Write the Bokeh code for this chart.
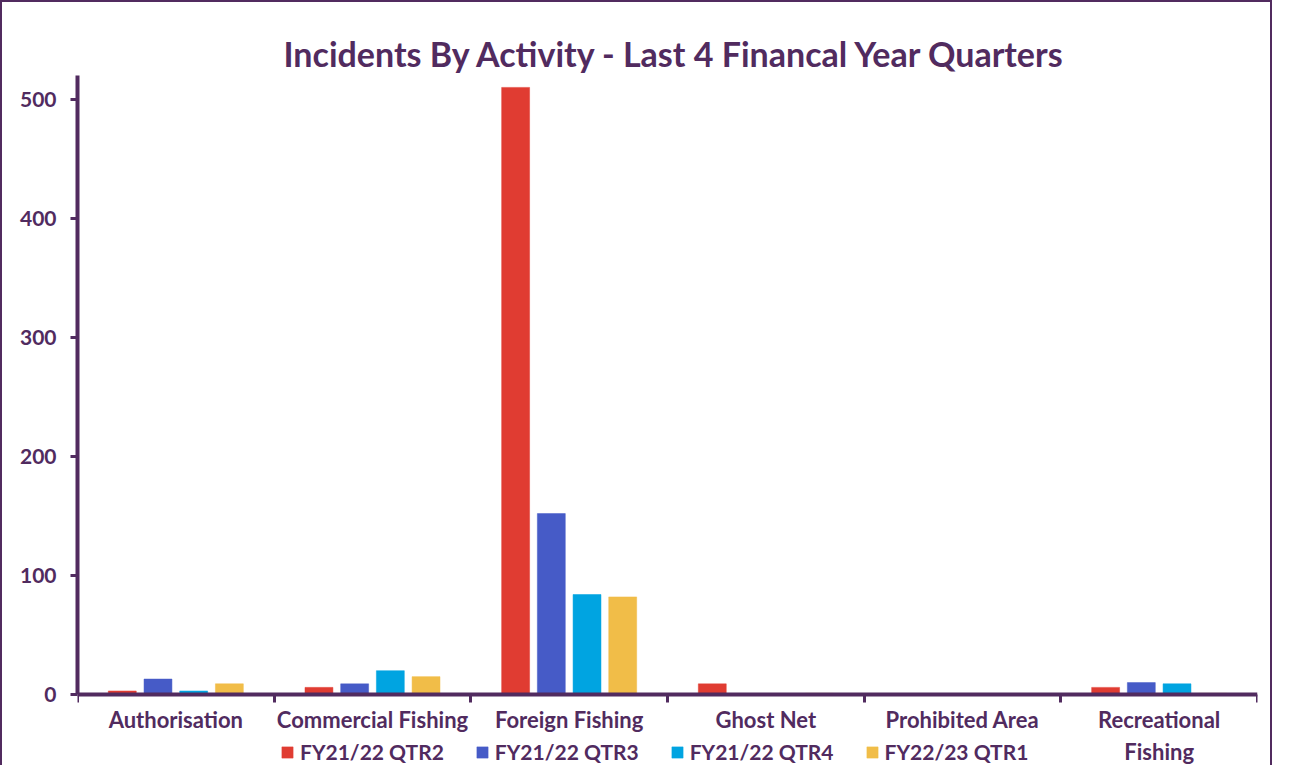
from bokeh.plotting import figure
from bokeh.models import ColumnDataSource, FixedTicker, Legend, LegendItem, Range1d
from bokeh.transform import dodge
from bokeh.embed import file_html
from bokeh.resources import INLINE

# ---- data ----
categories = ["Authorisation", "Commercial Fishing", "Foreign Fishing",
              "Ghost Net", "Prohibited Area", "Recreational Fishing"]
category_labels = ["Authorisation", "Commercial Fishing", "Foreign Fishing",
                   "Ghost Net", "Prohibited Area", "Recreational\nFishing"]
series_names = ["FY21/22 QTR2", "FY21/22 QTR3", "FY21/22 QTR4", "FY22/23 QTR1"]
fy2122_q2 = [3, 6, 510, 9, 0, 6]
fy2122_q3 = [13, 9, 152, 0, 0, 10]
fy2122_q4 = [3, 20, 84, 0, 0, 9]
fy2223_q1 = [9, 15, 82, 1, 0, 1]
y_ticks = [0, 100, 200, 300, 400, 500]

colors = ["#e03c32", "#465bc7", "#00a4e1", "#f1bd48"]
PURPLE = "#512b5f"
FONT = "Lato"

n = len(categories)
centers = [i + 0.5 for i in range(n)]
bounds = [float(i) for i in range(n + 1)]

src = ColumnDataSource(dict(x=centers, q2=fy2122_q2, q3=fy2122_q3,
                            q4=fy2122_q4, q1=fy2223_q1))
cols = ["q2", "q3", "q4", "q1"]

p = figure(width=1272, height=765, output_backend="svg", toolbar_location=None,
           x_range=Range1d(0, n), y_range=Range1d(-61.3, 520),
           min_border_left=75, min_border_top=73, min_border_right=17,
           min_border_bottom=0,
           title="Incidents By Activity - Last 4 Financal Year Quarters")
p.styles = {"border-top": f"2px solid {PURPLE}",
            "border-left": f"2px solid {PURPLE}",
            "border-right": f"2px solid {PURPLE}"}

p.title.align = "left"
p.title.offset = 206
p.title.text_font = FONT
p.title.text_font_style = "bold"
p.title.text_font_size = "34px"
p.title.text_color = PURPLE
p.title.standoff = 4

pitch = 0.1815
bw = 0.142
renderers = []
for k, (c, col) in enumerate(zip(cols, colors)):
    off = (k - 1.5) * pitch
    r = p.vbar(x=dodge("x", off), top=c, width=bw, source=src,
               fill_color=col, line_color=col, line_width=0.5)
    renderers.append(r)

p.xgrid.visible = False
p.ygrid.visible = False
p.outline_line_color = None

xa = p.xaxis[0]
xa.fixed_location = 0
xa.ticker = FixedTicker(ticks=centers, minor_ticks=bounds)
xa.major_label_overrides = {c: lab for c, lab in zip(centers, category_labels)}
xa.major_tick_line_color = None
xa.major_tick_out = 0
xa.major_tick_in = 0
xa.minor_tick_line_color = PURPLE
xa.minor_tick_line_width = 3
xa.minor_tick_out = 8
xa.minor_tick_in = 0
xa.axis_line_color = PURPLE
xa.axis_line_width = 4
xa.major_label_text_font = FONT
xa.major_label_text_font_style = "bold"
xa.major_label_text_font_size = "22px"
xa.major_label_text_color = PURPLE
xa.major_label_standoff = 3

ya = p.yaxis[0]
ya.bounds = (0, 520)
ya.ticker = FixedTicker(ticks=y_ticks)
ya.minor_tick_line_color = None
ya.major_tick_line_color = PURPLE
ya.major_tick_line_width = 3
ya.major_tick_out = 7
ya.major_tick_in = 0
ya.axis_line_color = PURPLE
ya.axis_line_width = 4
ya.major_label_text_font = FONT
ya.major_label_text_font_style = "bold"
ya.major_label_text_font_size = "21px"
ya.major_label_text_color = PURPLE
ya.major_label_standoff = 14

legend = Legend(items=[LegendItem(label=nm, renderers=[r])
                       for nm, r in zip(series_names, renderers)],
                orientation="horizontal", location=(203, 3),
                glyph_width=14, glyph_height=14, label_standoff=6,
                label_width=142, spacing=31, padding=0, margin=0,
                border_line_color=None, background_fill_alpha=0,
                label_text_font=FONT, label_text_font_style="bold",
                label_text_font_size="21px", label_text_color=PURPLE)
p.add_layout(legend)

open("out.html", "w").write(file_html(p, INLINE))
